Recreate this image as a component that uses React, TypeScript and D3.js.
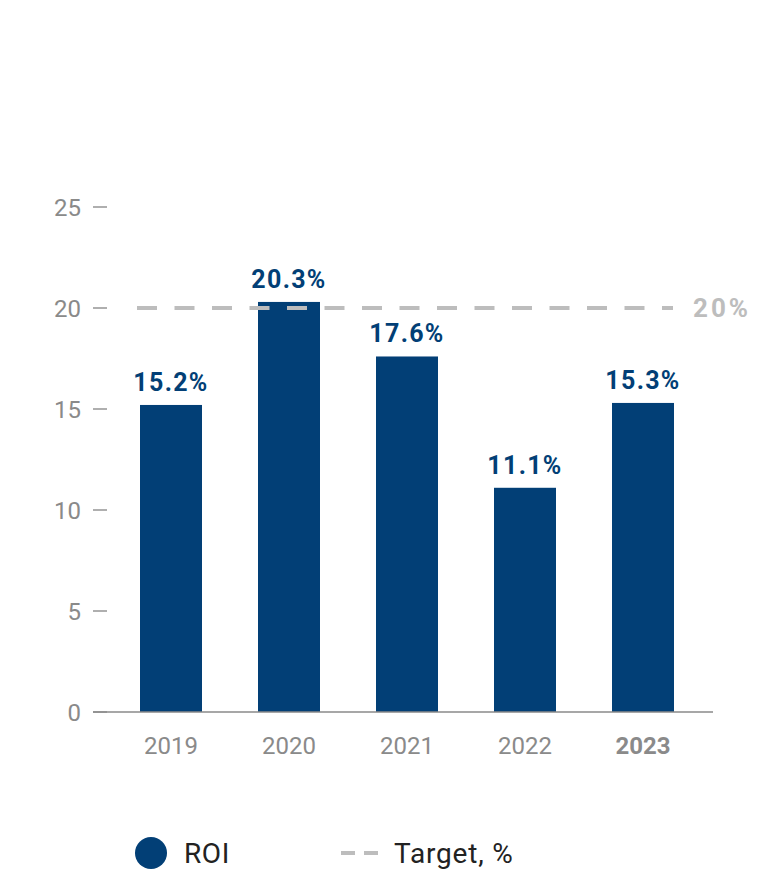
import React from "react";
import * as d3 from "d3";

const years = ["2019", "2020", "2021", "2022", "2023"];
const roi = [15.2, 20.3, 17.6, 11.1, 15.3];
const yTicks = [0, 5, 10, 15, 20, 25];
const target = 20;
const highlightYear = "2023";

const W = 759;
const H = 875;
const BAR = "#023f76";
const GRAY_TXT = "#8a8a8a";
const TARGET_C = "#bdbdbd";
const FONT = "Roboto, 'Open Sans', sans-serif";

export default function App() {
  const y = d3.scaleLinear().domain([0, 25]).range([712, 207]);
  const x = d3
    .scaleBand<string>()
    .domain(years)
    .range([112, 702])
    .paddingInner(56 / 118)
    .paddingOuter(28 / 118);

  return (
    <svg
      width={W}
      height={H}
      style={{ position: "absolute", left: 0, top: 0, background: "#fff" }}
      fontFamily={FONT}
    >
      {/* y ticks */}
      {yTicks.map((t) => (
        <g key={t}>
          <line x1={93} x2={107} y1={y(t)} y2={y(t)} stroke="#7a7a7a" strokeWidth={1.2} />
          <text
            x={81}
            y={y(t)}
            dy="0.36em"
            textAnchor="end"
            fontSize={24}
            fill={GRAY_TXT}
          >
            {t}
          </text>
        </g>
      ))}
      {/* bars */}
      {years.map((yr, i) => (
        <g key={yr}>
          <rect
            x={x(yr)}
            y={y(roi[i])}
            width={x.bandwidth()}
            height={y(0) - y(roi[i])}
            fill={BAR}
          />
          <text
            x={(x(yr) as number) + x.bandwidth() / 2}
            y={y(roi[i]) - 14}
            textAnchor="middle"
            fontSize={25}
            fontWeight={700}
            letterSpacing={1.3}
            fill={BAR}
          >
            {roi[i].toFixed(1)}%
          </text>
          <text
            x={(x(yr) as number) + x.bandwidth() / 2}
            y={745}
            dy="0.36em"
            textAnchor="middle"
            fontSize={24}
            fontWeight={yr === highlightYear ? 700 : 400}
            fill={GRAY_TXT}
          >
            {yr}
          </text>
        </g>
      ))}
      {/* baseline */}
      <line x1={93} x2={713} y1={y(0)} y2={y(0)} stroke="#8a8a8a" strokeWidth={1.5} />
      {/* target line */}
      <line
        x1={137}
        x2={673}
        y1={y(target)}
        y2={y(target)}
        stroke={TARGET_C}
        strokeWidth={4}
        strokeDasharray="20 17.5"
      />
      <text
        x={693}
        y={y(target)}
        dy="0.36em"
        fontSize={26}
        fontWeight={700}
        letterSpacing={3}
        fill={TARGET_C}
      >
        {target}%
      </text>
      {/* legend */}
      <circle cx={151} cy={853} r={16} fill={BAR} />
      <text x={184} y={853} dy="0.36em" fontSize={28} letterSpacing={0.6} fill="#222">
        ROI
      </text>
      <line x1={341} x2={378} y1={853} y2={853} stroke={TARGET_C} strokeWidth={4} strokeDasharray="14 9" />
      <text x={394} y={853} dy="0.36em" fontSize={28} letterSpacing={0.8} fill="#222">
        Target, %
      </text>
    </svg>
  );
}
